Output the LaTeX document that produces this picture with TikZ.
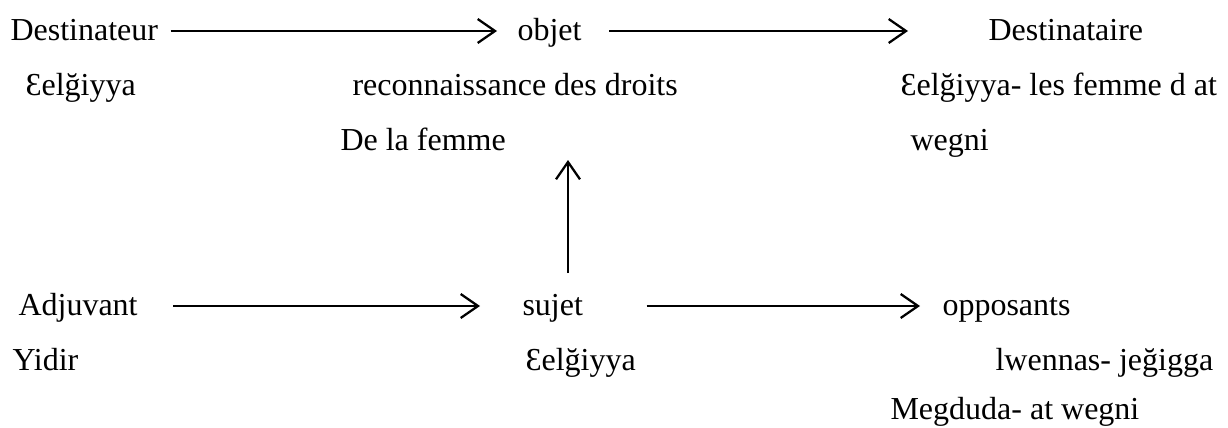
\documentclass[tikz,border=0pt]{standalone}
\usepackage{fontspec}
\setmainfont{Liberation Serif}
\usetikzlibrary{arrows.meta,calc}
\tikzset{
  lbl/.style={inner sep=0pt, anchor=base west, font=\fontsize{12}{14}\selectfont},
  arr/.style={line width=0.85pt, -{Straight Barb[length=6.5pt,width=9pt,line width=0.85pt]}}
}
\begin{document}
\begin{tikzpicture}[x=0.375pt,y=-0.375pt]
\useasboundingbox (0,0) rectangle (1228,428);
% row 1
\node[lbl] (dest) at (10,40) {Destinateur};
\node[lbl] (objet) at (517,40) {objet};
\node[lbl] (desti) at (988,40) {Destinataire};
% row 2
\node[lbl] (d1) at (25,95) {Ɛelğiyya};
\node[lbl] (o1) at (352,95) {reconnaissance des droits};
\node[lbl] (t1) at (900,95) {Ɛelğiyya- les femme d at};
% row 3
\node[lbl] (o2) at (340,150) {De la femme};
\node[lbl] (t2) at (910,150) {wegni};
% row 4
\node[lbl] (adj) at (18,315) {Adjuvant};
\node[lbl] (sujet) at (522,315) {sujet};
\node[lbl] (opp) at (942,315) {opposants};
% row 5
\node[lbl] (a1) at (12,370) {Yidir};
\node[lbl] (s1) at (525,370) {Ɛelğiyya};
\node[lbl] (p1) at (995,370) {lwennas- jeğigga};
% row 6
\node[lbl] (p2) at (890,419) {Megduda- at wegni};
% arrows
\draw[arr] ($(dest.base east)+(12,-9)$) -- ($(objet.base west)+(-20,-9)$);
\draw[arr] ($(objet.base east)+(27,-9)$) -- ($(desti.base west)+(-80,-9)$);
\draw[arr] ($(adj.base east)+(35,-9)$) -- ($(sujet.base west)+(-42,-9)$);
\draw[arr] ($(sujet.base east)+(63,-9)$) -- ($(opp.base west)+(-22,-9)$);
\draw[arr] ($(sujet.base west)+(46,-42)$) -- ($(o2.base west)+(228,10)$);
\end{tikzpicture}
\end{document}
